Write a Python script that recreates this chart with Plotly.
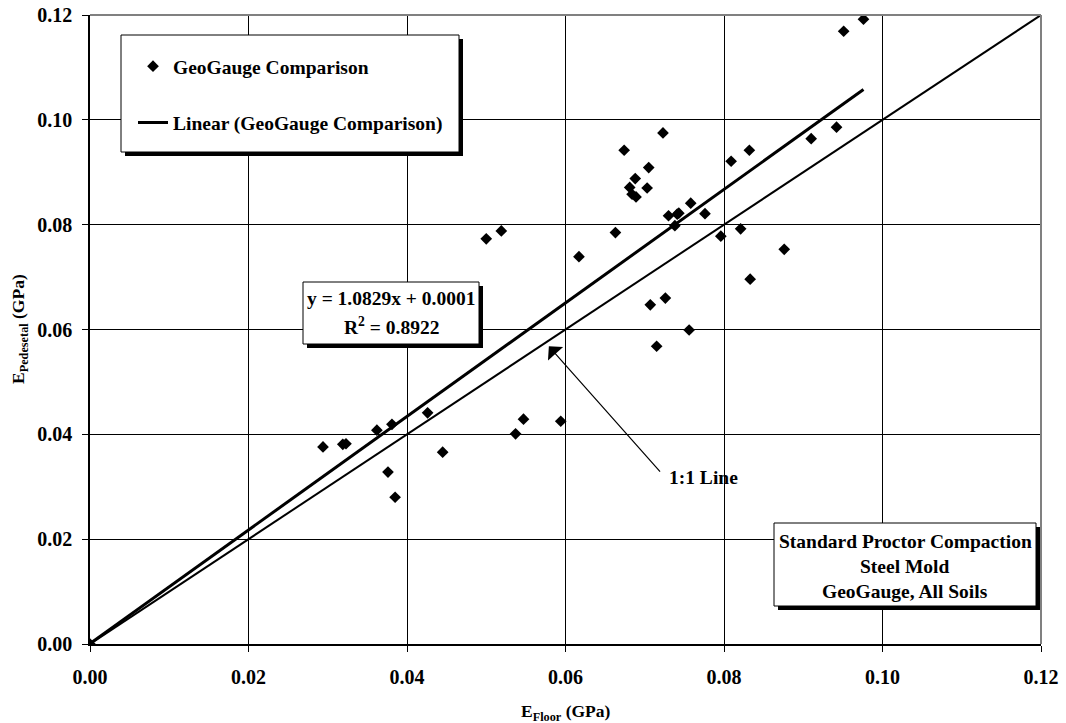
import plotly.graph_objects as go

# Modulus measured on the floor vs. on the pedestal (GPa)
e_floor = [0.0000, 0.0294, 0.0319, 0.0323, 0.0362, 0.0381, 0.0376, 0.0385, 0.0426,
           0.0445, 0.0537, 0.0547, 0.0594, 0.0500, 0.0519, 0.0617, 0.0663, 0.0674,
           0.0723, 0.0705, 0.0688, 0.0681, 0.0703, 0.0684, 0.0689, 0.0758, 0.0730,
           0.0741, 0.0743, 0.0776, 0.0738, 0.0809, 0.0832, 0.0796, 0.0821, 0.0876,
           0.0833, 0.0910, 0.0942, 0.0707, 0.0726, 0.0756, 0.0715, 0.0951, 0.0976]
e_pedestal = [0.0000, 0.0376, 0.0381, 0.0382, 0.0408, 0.0419, 0.0328, 0.0280, 0.0441,
              0.0366, 0.0401, 0.0429, 0.0425, 0.0773, 0.0788, 0.0739, 0.0785, 0.0942,
              0.0975, 0.0909, 0.0888, 0.0871, 0.0870, 0.0858, 0.0853, 0.0841, 0.0817,
              0.0820, 0.0822, 0.0821, 0.0798, 0.0921, 0.0942, 0.0778, 0.0792, 0.0753,
              0.0696, 0.0964, 0.0986, 0.0647, 0.0660, 0.0599, 0.0568, 0.1169, 0.1192]

# Linear trendline reported on the chart
slope = 1.0829
intercept = 0.0001
r_squared = 0.8922

axis_ticks = [0.00, 0.02, 0.04, 0.06, 0.08, 0.10, 0.12]
one_to_one = [0.00, 0.12]

info_lines = ["Standard Proctor Compaction", "Steel Mold", "GeoGauge, All Soils"]

FONT = "Liberation Serif, Times New Roman, serif"
W, H = 1066, 723
ML, MR, MT, MB = 90, 25, 15, 79
PW, PH = W - ML - MR, H - MT - MB


def px_x(px):
    return (px - ML) / PW


def px_y(py):
    return (H - MB - py) / PH


trend_x = [0.0, max(e_floor)]
trend_y = [slope * v + intercept for v in trend_x]

fig = go.Figure()

fig.add_trace(go.Scatter(
    x=one_to_one, y=one_to_one, mode="lines",
    line=dict(color="black", width=2), showlegend=False, hoverinfo="skip"))

fig.add_trace(go.Scatter(
    x=e_floor, y=e_pedestal, mode="markers", name="GeoGauge Comparison",
    legendgroup="a",
    marker=dict(symbol="diamond", size=9, color="black")))

fig.add_trace(go.Scatter(
    x=trend_x, y=trend_y, mode="lines", name="Linear (GeoGauge Comparison)",
    legendgroup="b",
    line=dict(color="black", width=3)))

shapes = []


def boxed(x0, y0, x1, y1):
    # drop shadow, then the white framed box
    shapes.append(dict(type="rect", xref="paper", yref="paper",
                       x0=px_x(x0 + 4), x1=px_x(x1 + 4), y0=px_y(y1 + 4), y1=px_y(y0 + 4),
                       fillcolor="black", line=dict(width=0), layer="above"))
    shapes.append(dict(type="rect", xref="paper", yref="paper",
                       x0=px_x(x0), x1=px_x(x1), y0=px_y(y1), y1=px_y(y0),
                       fillcolor="white", line=dict(color="black", width=1), layer="above"))


boxed(121, 35, 459, 152)     # legend frame
boxed(303, 282, 479, 344)    # equation
boxed(774, 523, 1036, 606)   # test conditions

# grey top / right frame of the plot area
shapes.append(dict(type="line", xref="paper", yref="paper", x0=0, x1=1, y0=1, y1=1,
                   line=dict(color="#808080", width=2), layer="above"))
shapes.append(dict(type="line", xref="paper", yref="paper", x0=1, x1=1, y0=0, y1=1,
                   line=dict(color="#808080", width=2), layer="above"))

bold = dict(family=FONT, size=19.5, color="black", weight="bold")
tick_font = dict(family=FONT, size=20, color="black", weight="bold")
title_font = dict(family=FONT, size=17.5, color="black", weight="bold")


def label(text, px, py, **kw):
    d = dict(xref="paper", yref="paper", x=px_x(px), y=px_y(py), showarrow=False,
             xanchor="center", yanchor="middle", text=text, font=bold)
    d.update(kw)
    return d


annotations = [
    label(f"y = {slope:.4f}x + {intercept:.4f}", 391, 299),
    label(f"R<sup>2</sup> = {r_squared:.4f}", 391, 326),
]
for i, line in enumerate(info_lines):
    annotations.append(label(line, 905, 541 + 25 * i))

annotations += [
    dict(x=0.0579, y=0.0568, ax=0.0721, ay=0.0326, xref="x", yref="y",
         axref="x", ayref="y", text="", showarrow=True, arrowhead=1,
         arrowsize=2.8, arrowwidth=1.2, arrowcolor="black", standoff=0),
    label("1:1 Line", 667, 477, xanchor="left"),
    # axis titles
    label("E<sub>Floor</sub> (GPa)", 565.5, 713, font=title_font),
    label("E<sub>Pedesetal</sub> (GPa)", 19, 329, font=title_font, textangle=-90),
]

axis_common = dict(
    range=[0, 0.12], tickvals=axis_ticks, tickformat=".2f",
    showgrid=True, gridcolor="black", gridwidth=1,
    showline=True, linecolor="black", linewidth=1.5,
    ticks="outside", ticklen=6, tickcolor="black", tickwidth=1,
    zeroline=False, tickfont=tick_font, fixedrange=True, automargin=False,
)

fig.update_layout(
    width=W, height=H,
    margin=dict(l=ML, r=MR, t=MT, b=MB, autoexpand=False),
    paper_bgcolor="white", plot_bgcolor="white",
    font=dict(family=FONT, color="black"),
    xaxis=dict(axis_common, ticklabelstandoff=8),
    yaxis=dict(axis_common, ticklabelstandoff=6),
    showlegend=True,
    legend=dict(x=px_x(133), y=px_y(47), xanchor="left", yanchor="top",
                bgcolor="rgba(0,0,0,0)", borderwidth=0, tracegroupgap=28,
                font=bold, itemwidth=30),
    shapes=shapes,
    annotations=annotations,
)

fig.write_html("out.html")
